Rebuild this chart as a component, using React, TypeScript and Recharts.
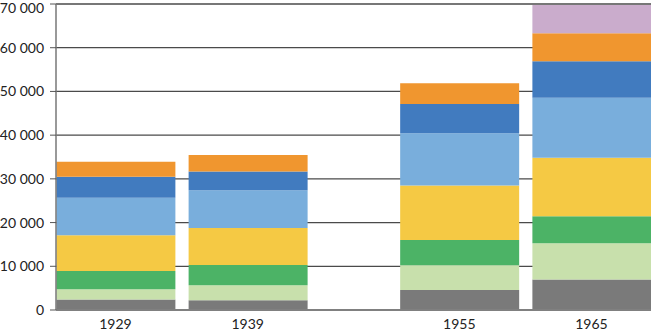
import { BarChart, Bar, XAxis, YAxis, CartesianGrid, ReferenceLine } from 'recharts';

const years = [1929, 1939, 1955, 1965];
const yTicks = [0, 10000, 20000, 30000, 40000, 50000, 60000, 70000];

// stacked from the bottom up
const grey = [2380, 2220, 4580, 6960];
const paleGreen = [2360, 3440, 5660, 8310];
const green = [4190, 4650, 5790, 6190];
const yellow = [8170, 8470, 12460, 13350];
const lightBlue = [8550, 8630, 11970, 13740];
const darkBlue = [4810, 4280, 6650, 8330];
const orange = [3430, 3740, 4740, 6420];
const lilac = [0, 0, 0, 6700];

const series = [
  { key: 'grey', values: grey, color: '#7a7a7a' },
  { key: 'paleGreen', values: paleGreen, color: '#c8e0ac' },
  { key: 'green', values: green, color: '#4cb366' },
  { key: 'yellow', values: yellow, color: '#f5c944' },
  { key: 'lightBlue', values: lightBlue, color: '#79aedc' },
  { key: 'darkBlue', values: darkBlue, color: '#417bbf' },
  { key: 'orange', values: orange, color: '#f0962f' },
  { key: 'lilac', values: lilac, color: '#caaccc' },
];

const data = years.map((year, i) => {
  const row: Record<string, number> = { year };
  series.forEach((s) => { row[s.key] = s.values[i]; });
  return row;
});

const fmt = (v: number) => String(v).replace(/\B(?=(\d{3})+(?!\d))/g, ' ');

const font = { fill: '#222', fontSize: 14, fontFamily: 'Lato' };

export default function App() {
  return (
    <div style={{ position: 'absolute', left: 0, top: 0, background: '#fff' }}>
      <BarChart width={651} height={331} data={data} margin={{ top: 4, right: 0, bottom: 0, left: 0 }}>
        <CartesianGrid vertical={false} stroke="#4a4a4a" strokeWidth={1.2} />
        <XAxis
          dataKey="year"
          type="number"
          domain={[1924.5, 1969.5]}
          allowDataOverflow
          ticks={years}
          tick={font}
          tickLine={false}
          tickMargin={3}
          height={21}
          axisLine={{ stroke: '#808080', strokeWidth: 2 }}
        />
        <YAxis
          type="number"
          domain={[0, 70000]}
          allowDataOverflow
          ticks={yTicks}
          tickFormatter={fmt}
          tick={font}
          tickSize={6}
          tickMargin={6}
          width={56}
          tickLine={{ stroke: '#555' }}
          axisLine={{ stroke: '#777', strokeWidth: 1.5 }}
        />
        {series.map((s) => (
          <Bar key={s.key} dataKey={s.key} stackId="a" fill={s.color} barSize={119} isAnimationActive={false} />
        ))}
        <ReferenceLine y={70000} stroke="#777" strokeWidth={2} />
      </BarChart>
    </div>
  );
}
